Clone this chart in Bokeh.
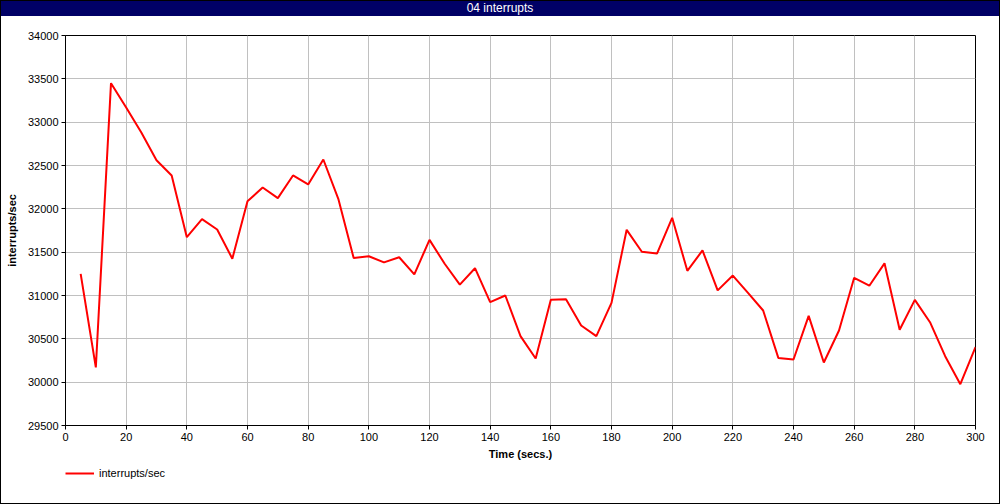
from bokeh.plotting import figure
from bokeh.models import (Range1d, FixedTicker, NumeralTickFormatter, Legend, LegendItem,
                          Div, ColumnDataSource)
from bokeh.layouts import column
from bokeh.embed import file_html
from bokeh.resources import INLINE

title_text = "04 interrupts"
series_name = "interrupts/sec"
x_label = "Time (secs.)"
y_label = "interrupts/sec"

time_s = [5, 10, 15, 20, 25, 30, 35, 40, 45, 50,
          55, 60, 65, 70, 75, 80, 85, 90, 95, 100,
          105, 110, 115, 120, 125, 130, 135, 140, 145, 150,
          155, 160, 165, 170, 175, 180, 185, 190, 195, 200,
          205, 210, 215, 220, 225, 230, 235, 240, 245, 250,
          255, 260, 265, 270, 275, 280, 285, 290, 295, 300]
interrupts = [31250, 30170, 33450, 33170, 32880, 32560, 32384, 31673, 31881, 31762,
              31425, 32088, 32246, 32123, 32385, 32281, 32569, 32108, 31433, 31453,
              31382, 31441, 31244, 31642, 31366, 31126, 31315, 30923, 31000, 30531,
              30273, 30950, 30958, 30654, 30531, 30915, 31758, 31505, 31484, 31896,
              31285, 31520, 31059, 31230, 31030, 30827, 30280, 30261, 30765, 30227,
              30596, 31204, 31113, 31371, 30604, 30950, 30692, 30300, 29977, 30405]

x_ticks = list(range(0, 301, 20))
y_ticks = list(range(29500, 34001, 500))

FONT = "Liberation Sans"
LINE_COLOR = "red"

p = figure(output_backend="svg", toolbar_location=None,
           frame_width=910, frame_height=390,
           x_range=Range1d(0, 300), y_range=Range1d(29500, 34000))
p.min_border_left = 64
p.min_border_right = 24
p.min_border_top = 19
p.min_border_bottom = 36
p.background_fill_color = "white"
p.border_fill_color = "white"
p.outline_line_color = "black"
p.outline_line_width = 1

for ax in (p.xaxis[0], p.yaxis[0]):
    ax.axis_line_color = "black"
    ax.major_tick_line_color = "black"
    ax.major_tick_out = 4
    ax.major_tick_in = 0
    ax.minor_tick_line_color = None
    ax.major_label_text_font = FONT
    ax.major_label_text_font_size = "11px"
    ax.major_label_text_color = "black"
    ax.axis_label_text_font = FONT
    ax.axis_label_text_font_size = "11px"
    ax.axis_label_text_font_style = "bold"
    ax.axis_label_text_color = "black"

p.xaxis.ticker = FixedTicker(ticks=x_ticks)
p.yaxis.ticker = FixedTicker(ticks=y_ticks)
p.yaxis.formatter = NumeralTickFormatter(format="0")
p.xaxis.axis_label = x_label
p.yaxis.axis_label = y_label
p.xaxis.major_label_standoff = 3
p.yaxis.major_label_standoff = 3
p.xaxis.axis_label_standoff = 4
p.yaxis.axis_label_standoff = 7

p.xgrid.ticker = FixedTicker(ticks=x_ticks)
p.ygrid.ticker = FixedTicker(ticks=y_ticks)
p.grid.grid_line_color = "#c0c0c0"
p.grid.grid_line_width = 1

src = ColumnDataSource(dict(x=time_s, y=interrupts))
p.line("x", "y", source=src, line_color=LINE_COLOR, line_width=2)

# legend strip below the chart (the series is drawn out of its view range; only its legend shows)
lg = figure(output_backend="svg", toolbar_location=None, width=998, height=41,
            x_range=Range1d(-1000, -999), y_range=Range1d(0, 1),
            x_axis_location=None, y_axis_location=None)
lg.min_border = 0
lg.min_border_left = 0
lg.min_border_right = 0
lg.min_border_top = 0
lg.min_border_bottom = 0
lg.grid.visible = False
lg.outline_line_color = None
lg.background_fill_color = "white"
lg.border_fill_color = "white"
proxy = lg.line("x", "y", source=src, line_color=LINE_COLOR, line_width=2)
legend = Legend(items=[LegendItem(label=series_name, renderers=[proxy])],
                location=(0, 20), orientation="horizontal",
                border_line_color=None, background_fill_alpha=0,
                padding=0, margin=0, glyph_width=29, glyph_height=20,
                label_standoff=5, label_text_font=FONT, label_text_font_size="11px",
                label_text_color="black")
lg.add_layout(legend, "center")

title = Div(text=title_text, width=998, height=15, margin=0,
            styles={"background-color": "#000066", "color": "white",
                    "text-align": "center", "font-family": FONT,
                    "font-size": "12px", "line-height": "15px"})

layout = column(title, p, lg, spacing=0,
                styles={"border": "1px solid black"})

open("out.html", "w").write(file_html(layout, INLINE))
